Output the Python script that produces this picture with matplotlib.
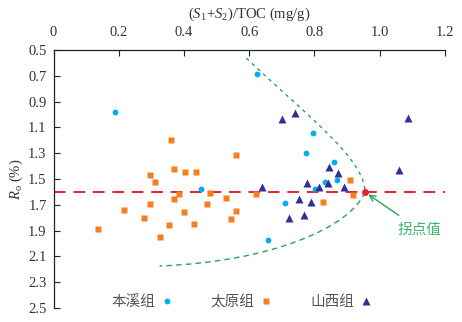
import matplotlib
matplotlib.use('Agg')
import matplotlib.pyplot as plt
from matplotlib.path import Path
from matplotlib.patches import PathPatch

# (S1+S2)/TOC vs Ro, three formations
benxi_x = [0.187, 0.625, 0.796, 0.773, 0.859, 0.869, 0.831, 0.803, 0.711, 0.656, 0.452]
benxi_ro = [0.983, 0.686, 1.146, 1.298, 1.368, 1.508, 1.523, 1.575, 1.684, 1.973, 1.578]

taiyuan_x = [0.136, 0.216, 0.277, 0.296, 0.296, 0.311, 0.326, 0.354, 0.359, 0.369, 0.369,
             0.385, 0.400, 0.403, 0.431, 0.437, 0.470, 0.480, 0.528, 0.543, 0.560, 0.560,
             0.622, 0.909, 0.919, 0.825]
taiyuan_ro = [1.890, 1.743, 1.805, 1.469, 1.696, 1.526, 1.947, 1.859, 1.198, 1.425, 1.655,
              1.616, 1.758, 1.443, 1.849, 1.448, 1.696, 1.609, 1.650, 1.810, 1.314, 1.750,
              1.618, 1.508, 1.624, 1.681]

shanxi_x = [0.640, 0.699, 0.740, 0.721, 0.752, 0.768, 0.777, 0.788, 0.814, 0.840, 0.844,
            0.872, 0.892, 1.060, 1.087]
shanxi_ro = [1.562, 1.035, 0.986, 1.804, 1.653, 1.777, 1.531, 1.676, 1.564, 1.531, 1.405,
             1.451, 1.564, 1.428, 1.026]

turn_x, turn_ro = 0.955, 1.6

# envelope curve (bezier control points)
upper_curve = [(0.591, 0.564), (0.786, 1.027), (0.955, 1.353), (0.955, 1.601)]
lower_curve = [(0.955, 1.601), (0.909, 1.880), (0.663, 2.143), (0.325, 2.174)]

x_ticks = [0, 0.2, 0.4, 0.6, 0.8, 1.0, 1.2]
x_ticklabels = ['0', '0.2', '0.4', '0.6', '0.8', '1.0', '1.2']
y_ticks = [0.5, 0.7, 0.9, 1.1, 1.3, 1.5, 1.7, 1.9, 2.1, 2.3, 2.5]

cjk = ['Noto Sans CJK SC', 'DejaVu Sans']
plt.rcParams['font.family'] = ['Liberation Serif', 'DejaVu Serif']
plt.rcParams['mathtext.fontset'] = 'custom'
plt.rcParams['mathtext.rm'] = 'Liberation Serif'
plt.rcParams['mathtext.it'] = 'Liberation Serif:italic'

fig = plt.figure(figsize=(4.62, 3.22), dpi=100)
ax = fig.add_axes([0.116, 0.0435, 0.847, 0.8015])

ax.axhline(turn_ro, color='#e8202a', lw=1.4, dashes=(6, 4), zorder=1)

green = '#22a854'
p = PathPatch(Path(upper_curve, [Path.MOVETO, Path.CURVE4, Path.CURVE4, Path.CURVE4]),
              fill=False, edgecolor=green, lw=1.0, linestyle=(0, (2.5, 3)), zorder=2)
ax.add_patch(p)
p = PathPatch(Path(lower_curve, [Path.MOVETO, Path.CURVE4, Path.CURVE4, Path.CURVE4]),
              fill=False, edgecolor=green, lw=1.0, linestyle=(0, (4, 3)), zorder=2)
ax.add_patch(p)

ax.plot(benxi_x, benxi_ro, 'o', color='#00aeef', ms=4.2, mec='none', label='本溪组', zorder=3)
ax.plot(taiyuan_x, taiyuan_ro, 's', color='#f47f20', ms=4.3, mec='none', label='太原组', zorder=3)
ax.plot(shanxi_x, shanxi_ro, '^', color='#2e3192', ms=5.5, mec='none', label='山西组', zorder=3)
ax.plot([turn_x], [turn_ro], 'o', color='#e8202a', ms=5, mec='none', zorder=4)

ax.annotate('拐点值', xy=(turn_x + 0.01, turn_ro + 0.02), xytext=(1.056, 1.895),
            fontsize=10.5, color='#3cb371', family=cjk, ha='left', va='center',
            arrowprops=dict(arrowstyle='->', color=green, lw=1.0,
                            shrinkA=6, shrinkB=0))

ax.set_xlim(0, 1.2)
ax.set_ylim(2.5, 0.5)
ax.xaxis.tick_top()
ax.xaxis.set_label_position('top')
ax.set_xticks(x_ticks)
ax.set_xticklabels(x_ticklabels)
ax.set_yticks(y_ticks)
ax.set_yticklabels([f'{v:.1f}' for v in y_ticks])
ax.tick_params(direction='in', length=4, width=0.8, labelsize=10.5, color='#222222',
               labelcolor='#333333')
ax.tick_params(axis='x', pad=8)
ax.tick_params(axis='y', pad=5)
for s in ['right', 'bottom']:
    ax.spines[s].set_visible(False)
for s in ['top', 'left']:
    ax.spines[s].set_linewidth(0.9)
    ax.spines[s].set_color('#222222')

ax.set_xlabel(r'$(\mathit{S}_1\!+\!\mathit{S}_2)/\mathrm{TOC\ (mg/g)}$', fontsize=10.5,
              color='#333333', labelpad=6)
ax.set_ylabel(r'$\mathit{R}_\mathrm{o}\ \mathrm{(\%)}$', fontsize=10.5, color='#333333',
              labelpad=2)

leg = ax.legend(loc='lower center', bbox_to_anchor=(0.48, -0.055), ncol=3, frameon=False,
                markerfirst=False, handlelength=0.8, handletextpad=0.4, columnspacing=2.6,
                prop={'family': cjk, 'size': 10.5})
for t in leg.get_texts():
    t.set_color('#555555')

fig.savefig('out.png', dpi=100)
